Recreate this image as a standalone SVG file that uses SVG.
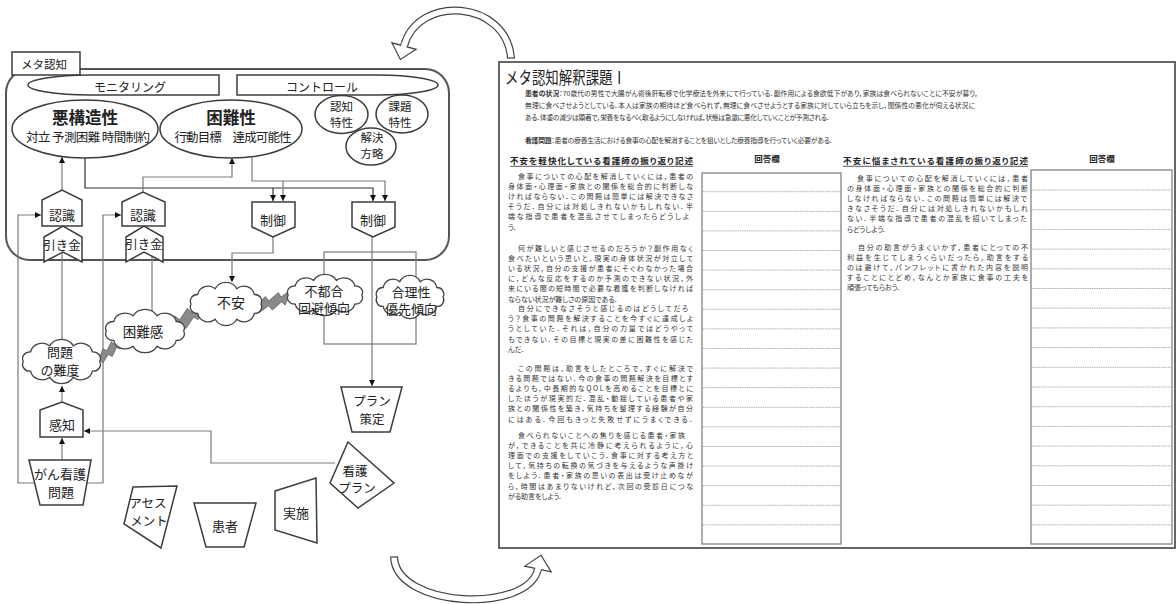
<svg xmlns="http://www.w3.org/2000/svg" width="1176" height="604" viewBox="0 0 1176 604">
<style>
text{font-family:"Noto Sans CJK JP","Noto Sans CJK SC",sans-serif;fill:#222}
.m{text-anchor:middle}
.l13{font-size:13px}
.l125{font-size:12.5px}
.shape{fill:#fff;stroke:#3c3c3c;stroke-width:1.5}
.conn{fill:none;stroke:#7a7a7a;stroke-width:1.2}
.connd{fill:none;stroke:#333;stroke-width:1.2}
.cloud{fill:#fff;stroke:#444;stroke-width:1.3;vector-effect:non-scaling-stroke}
.bolt{fill:#8a8a8a;stroke:#555;stroke-width:0.7;vector-effect:non-scaling-stroke}
.hd{font-size:6.8px;font-feature-settings:"palt";fill:#333}
.b{font-size:7px;font-feature-settings:"palt";fill:#333}
.ch{font-size:8.5px;font-weight:bold;font-feature-settings:"palt";fill:#222}
.dash{stroke:#9a9a9a;stroke-width:0.8;stroke-dasharray:1.5 0.8}
.box{fill:#fff;stroke:#777;stroke-width:1.2}
.band{fill:none;stroke:#444;stroke-width:8}
.bandw{fill:none;stroke:#fff;stroke-width:5.6}
</style>
<defs>
<marker id="ah" viewBox="0 0 6 6" refX="6" refY="3" markerWidth="6" markerHeight="6" markerUnits="userSpaceOnUse" orient="auto"><path d="M0,0L6,3L0,6z" fill="#111"/></marker>
</defs>
<rect width="1176" height="604" fill="#fff"/>

<!-- curved cycle arrows -->
<g id="cycle-arrow-top">
<path class="band" d="M511,58 C506,0 418,-6 404,46"/>
<path class="bandw" d="M511,58 C506,0 418,-6 404,46"/>
<polygon points="416.1,49.3 400.4,59.5 391.9,42.8" fill="#fff" stroke="#444" stroke-width="1.2"/>
<line x1="404.8" y1="43" x2="403.4" y2="48" stroke="#fff" stroke-width="5.6"/>
<line x1="507" y1="58" x2="515" y2="58" stroke="#444" stroke-width="1.2"/>
</g>
<g id="cycle-arrow-bottom">
<path class="band" d="M394,557 C396,608 528,614 538,569"/>
<path class="bandw" d="M394,557 C396,608 528,614 538,569"/>
<polygon points="551.2,571.9 541,555.3 524.8,566.1" fill="#fff" stroke="#444" stroke-width="1.2"/>
<line x1="537.5" y1="571.5" x2="538.4" y2="567.3" stroke="#fff" stroke-width="5.6"/>
<line x1="390" y1="557" x2="398" y2="557" stroke="#444" stroke-width="1.2"/>
</g>

<!-- metacognition frame -->
<g id="metacog-frame">
<rect x="6" y="69" width="443" height="191" rx="24" fill="none" stroke="#555" stroke-width="2"/>
</g>
<g id="metacog-label">
<rect x="12" y="52" width="68" height="23" class="shape"/>
<text x="21" y="68.5" font-size="11.5">メタ認知</text>
</g>
<g id="monitoring">
<path class="shape" d="M219,75 H90 A62,10 0 0 0 90,95 H219 Z"/>
<text class="m" x="130" y="91.5" font-size="12">モニタリング</text>
</g>
<g id="control">
<path class="shape" d="M237,75 H378 A60,10 0 0 1 378,95 H237 Z"/>
<text class="m" x="322" y="91.5" font-size="12">コントロール</text>
</g>
<g id="ill-structure">
<ellipse class="shape" cx="85" cy="129" rx="73" ry="29"/>
<text class="m" x="85" y="124" font-size="16.5" font-weight="bold">悪構造性</text>
<text class="m" x="88" y="142" font-size="12.5" textLength="124">対立 予測困難 時間制約</text>
</g>
<g id="difficulty">
<ellipse class="shape" cx="231" cy="129" rx="71" ry="29"/>
<text class="m" x="231" y="124" font-size="16.5" font-weight="bold">困難性</text>
<text class="m" x="233" y="142" font-size="12.5" textLength="117">行動目標　達成可能性</text>
</g>
<g id="cognitive-trait">
<ellipse class="shape" cx="341.5" cy="114.5" rx="26.5" ry="19"/>
<text class="m" x="341.5" y="110.5" font-size="11.5">認知</text>
<text class="m" x="341.5" y="127" font-size="11.5">特性</text>
</g>
<g id="task-trait">
<ellipse class="shape" cx="402" cy="114" rx="26" ry="19"/>
<text class="m" x="400" y="110.5" font-size="11.5">課題</text>
<text class="m" x="400" y="127" font-size="11.5">特性</text>
</g>
<g id="solution-strategy">
<ellipse class="shape" cx="371" cy="146.5" rx="25" ry="18.5"/>
<text class="m" x="372" y="141.5" font-size="11.5">解決</text>
<text class="m" x="372" y="158" font-size="11.5">方略</text>
</g>

<!-- connectors -->
<g id="connectors">
<path class="connd" d="M85,158V188H373V201" marker-end="url(#ah)"/>
<path class="connd" d="M273,188V201" marker-end="url(#ah)"/>
<path class="conn" d="M252,157V181H385V201" marker-end="url(#ah)"/>
<path class="conn" d="M283,181V201" marker-end="url(#ah)"/>
<path class="conn" d="M62,190V157" marker-end="url(#ah)"/>
<path class="conn" d="M143,192V177H232V158" marker-end="url(#ah)"/>
<path class="conn" d="M35,483H18V215H41" marker-end="url(#ah)"/>
<path class="conn" d="M85,483H103V215H121" marker-end="url(#ah)"/>
<path class="conn" d="M62,252V341"/>
<path class="conn" d="M152,256V311"/>
<path class="conn" d="M273,237V253H232V282" marker-end="url(#ah)"/>
<path class="conn" d="M372,237V386" marker-end="url(#ah)"/>
<rect class="conn" x="324" y="252" width="92" height="92"/>
<path class="conn" d="M335,463H211V431H84" marker-end="url(#ah)"/>
<path class="conn" d="M62,402V386" marker-end="url(#ah)"/>
<path class="conn" d="M62,460V438" marker-end="url(#ah)"/>
</g>

<!-- process nodes -->
<g id="recognize-1">
<polygon class="shape" points="42,200 62,190 82,200 82,226 42,226"/>
<text class="m l13" x="62" y="220">認識</text>
</g>
<g id="trigger-1">
<polygon class="shape" points="44,237 63,226 82,237 82,262 63,252 44,262"/>
<text class="m" x="62" y="249.5" font-size="12.5">引き金</text>
</g>
<g id="recognize-2">
<polygon class="shape" points="122,202 143,192 165,202 165,226 122,226"/>
<text class="m l13" x="143" y="220">認識</text>
</g>
<g id="trigger-2">
<polygon class="shape" points="126,237 144,226 163,237 163,262 144,252 126,262"/>
<text class="m" x="144" y="248.5" font-size="12.5">引き金</text>
</g>
<g id="control-1">
<polygon class="shape" points="252,202 295,202 295,227 273,237 252,227"/>
<text class="m l13" x="273" y="224.5">制御</text>
</g>
<g id="control-2">
<polygon class="shape" points="352,202 395,202 395,227 373,237 352,227"/>
<text class="m l13" x="373" y="225">制御</text>
</g>

<!-- lightning bolts -->
<g id="bolts">
<path class="bolt" transform="translate(98,358) rotate(-31.6) scale(0.76)" d="M0,2 L12,-7 L15,-2 L26,-9 L28,-4 L40,-10 L31,5 L28,1 L17,8 L14,3 L2,9 Z"/>
<path class="bolt" transform="translate(166,328) rotate(-23.6) scale(1.06)" d="M0,2 L12,-7 L15,-2 L26,-9 L28,-4 L40,-10 L31,5 L28,1 L17,8 L14,3 L2,9 Z"/>
<path class="bolt" transform="translate(255,305) rotate(-9) scale(0.96)" d="M0,2 L12,-7 L15,-2 L26,-9 L28,-4 L40,-10 L31,5 L28,1 L17,8 L14,3 L2,9 Z"/>
</g>

<!-- clouds -->
<g id="anxiety">
<path class="cloud" transform="translate(188,282) scale(0.76,0.733)" d="M96,30 A9,9 0 0 1 87.2,42.9 A14,14 0 0 1 64.2,50.9 A16,16 0 0 1 35.8,50.9 A14,14 0 0 1 12.8,42.9 A9,9 0 0 1 4,30 A9,9 0 0 1 12.8,17.1 A14,14 0 0 1 35.8,9.1 A16,16 0 0 1 64.2,9.1 A14,14 0 0 1 87.2,17.1 A9,9 0 0 1 96,30 Z"/>
<text class="m" x="231" y="308" font-size="14">不安</text>
</g>
<g id="avoidance">
<path class="cloud" transform="translate(285,274) scale(0.8,0.7)" d="M96,30 A9,9 0 0 1 87.2,42.9 A14,14 0 0 1 64.2,50.9 A16,16 0 0 1 35.8,50.9 A14,14 0 0 1 12.8,42.9 A9,9 0 0 1 4,30 A9,9 0 0 1 12.8,17.1 A14,14 0 0 1 35.8,9.1 A16,16 0 0 1 64.2,9.1 A14,14 0 0 1 87.2,17.1 A9,9 0 0 1 96,30 Z"/>
<text class="m" x="324" y="295.5" font-size="13">不都合</text>
<text class="m" x="324" y="312.5" font-size="13">回避傾向</text>
</g>
<g id="rationality">
<path class="cloud" transform="translate(374,275) scale(0.72,0.733)" d="M96,30 A9,9 0 0 1 87.2,42.9 A14,14 0 0 1 64.2,50.9 A16,16 0 0 1 35.8,50.9 A14,14 0 0 1 12.8,42.9 A9,9 0 0 1 4,30 A9,9 0 0 1 12.8,17.1 A14,14 0 0 1 35.8,9.1 A16,16 0 0 1 64.2,9.1 A14,14 0 0 1 87.2,17.1 A9,9 0 0 1 96,30 Z"/>
<text class="m" x="411" y="296.5" font-size="13">合理性</text>
<text class="m" x="411" y="313.5" font-size="13">優先傾向</text>
</g>
<g id="sense-of-difficulty">
<path class="cloud" transform="translate(103,309) scale(0.84,0.733)" d="M96,30 A9,9 0 0 1 87.2,42.9 A14,14 0 0 1 64.2,50.9 A16,16 0 0 1 35.8,50.9 A14,14 0 0 1 12.8,42.9 A9,9 0 0 1 4,30 A9,9 0 0 1 12.8,17.1 A14,14 0 0 1 35.8,9.1 A16,16 0 0 1 64.2,9.1 A14,14 0 0 1 87.2,17.1 A9,9 0 0 1 96,30 Z"/>
<text class="m" x="143" y="336.5" font-size="13.5">困難感</text>
</g>
<g id="problem-difficulty">
<path class="cloud" transform="translate(20,339) scale(0.83,0.75)" d="M96,30 A9,9 0 0 1 87.2,42.9 A14,14 0 0 1 64.2,50.9 A16,16 0 0 1 35.8,50.9 A14,14 0 0 1 12.8,42.9 A9,9 0 0 1 4,30 A9,9 0 0 1 12.8,17.1 A14,14 0 0 1 35.8,9.1 A16,16 0 0 1 64.2,9.1 A14,14 0 0 1 87.2,17.1 A9,9 0 0 1 96,30 Z"/>
<text class="m" x="60" y="357" font-size="13">問題</text>
<text class="m" x="60" y="375" font-size="13">の難度</text>
</g>

<!-- lower nodes -->
<g id="perception">
<polygon class="shape" points="40,410 62,402 83,410 83,437 40,437"/>
<text class="m l13" x="62" y="430">感知</text>
</g>
<g id="cancer-nursing-problem">
<polygon class="shape" points="29,460 91,460 83,505 40,505"/>
<text class="m" x="60" y="479" font-size="13">がん看護</text>
<text class="m" x="61" y="497" font-size="13">問題</text>
</g>
<g id="plan-making">
<polygon class="shape" points="341,387 402,387 390,432 352,432"/>
<text class="m l125" x="372" y="406">プラン</text>
<text class="m l125" x="372" y="424">策定</text>
</g>
<g id="nursing-plan">
<polygon class="shape" points="348,442 394,483 358,508 330,483"/>
<text class="m l125" x="355" y="475.5">看護</text>
<text class="m l125" x="357" y="493">プラン</text>
</g>
<g id="assessment">
<polygon class="shape" points="133,487 177,486 161,548 124,524"/>
<text class="m l125" x="148" y="508">アセス</text>
<text class="m l125" x="149" y="526">メント</text>
</g>
<g id="patient">
<polygon class="shape" points="194,503 256,503 244,547 206,547"/>
<text class="m l13" x="225" y="531">患者</text>
</g>
<g id="implementation">
<polygon class="shape" points="275,491 316,478 317,543 275,530"/>
<text class="m l13" x="296" y="518">実施</text>
</g>

<!-- worksheet -->
<g id="worksheet">
<rect x="499" y="62" width="676" height="486" fill="#fff" stroke="#666" stroke-width="2"/>
<text x="505" y="83.5" font-size="17" textLength="121" lengthAdjust="spacingAndGlyphs">メタ認知解釈課題Ⅰ</text>
<text class="hd" x="525" y="96" textLength="453"><tspan font-weight="bold">患者の状況</tspan>：70歳代の男性で大腸がん術後肝転移で化学療法を外来にて行っている．副作用による食欲低下があり，家族は食べられないことに不安が募り，</text>
<text class="hd" x="525" y="107.5" textLength="450">無理に食べさせようとしている．本人は家族の期待ほど食べられず，無理に食べさせようとする家族に対していら立ちを示し，関係性の悪化が伺える状況に</text>
<text class="hd" x="525" y="119.5" textLength="305">ある．体重の減少は顕著で，栄養をなるべく取るようにしなければ，状態は急激に悪化していくことが予測される．</text>
<text class="hd" x="525" y="142.5" textLength="308"><tspan font-weight="bold">看護問題</tspan>：患者の療養生活における食事の心配を解消することを狙いとした療養指導を行っていく必要がある．</text>

<text class="ch" x="510" y="163.5" textLength="183">不安を軽快化している看護師の振り返り記述</text>
<line x1="510" y1="166.3" x2="693" y2="166.3" stroke="#333" stroke-width="0.8"/>
<text class="ch m" x="767" y="162">回答欄</text>
<text class="ch" x="843" y="163.5" textLength="185">不安に悩まされている看護師の振り返り記述</text>
<line x1="843" y1="166.3" x2="1028" y2="166.3" stroke="#333" stroke-width="0.8"/>
<text class="ch m" x="1102" y="162">回答欄</text>

<text class="b" x="518" y="178.5" textLength="175">食事についての心配を解消していくには，患者の</text>
<text class="b" x="508" y="188.7" textLength="185">身体面・心理面・家族との関係を総合的に判断しな</text>
<text class="b" x="508" y="198.9" textLength="185">ければならない．この問題は簡単には解決できなさ</text>
<text class="b" x="508" y="209.1" textLength="185">そうだ．自分には対処しきれないかもしれない．半</text>
<text class="b" x="508" y="219.3" textLength="181">端な指導で患者を混乱させてしまったらどうしよ</text>
<text class="b" x="508" y="229.5">う．</text>

<text class="b" x="518" y="250.5" textLength="175">何が難しいと感じさせるのだろうか？副作用なく</text>
<text class="b" x="508" y="260.7" textLength="185">食べたいという思いと，現実の身体状況が対立して</text>
<text class="b" x="508" y="270.9" textLength="185">いる状況，自分の支援が患者にそぐわなかった場合</text>
<text class="b" x="508" y="281.1" textLength="185">に，どんな反応をするのか予測のできない状況，外</text>
<text class="b" x="508" y="291.3" textLength="185">来にいる間の短時間で必要な看護を判断しなければ</text>
<text class="b" x="508" y="301.5">ならない状況が難しさの原因である．</text>

<text class="b" x="518" y="311" textLength="170">自分にできなさそうと感じるのはどうしてだろ</text>
<text class="b" x="508" y="321.2" textLength="185">う？食事の問題を解決することを今すぐに達成しよ</text>
<text class="b" x="508" y="331.4" textLength="185">うとしていた．それは，自分の力量ではどうやって</text>
<text class="b" x="508" y="341.6" textLength="185">もできない．その目標と現実の差に困難性を感じた</text>
<text class="b" x="508" y="351.8">んだ．</text>

<text class="b" x="518" y="370.5" textLength="175">この問題は，助言をしたところで，すぐに解決で</text>
<text class="b" x="508" y="380.7" textLength="185">きる問題ではない．今の食事の問題解決を目標とす</text>
<text class="b" x="508" y="390.9" textLength="185">るよりも，中長期的なQOLを高めることを目標とに</text>
<text class="b" x="508" y="401.1" textLength="185">したほうが現実的だ．混乱・動揺している患者や家</text>
<text class="b" x="508" y="411.3" textLength="185">族との関係性を築き，気持ちを整理する経験が自分</text>
<text class="b" x="508" y="421.5" textLength="185">にはある．今回もきっと失敗せずにうまくできる．</text>

<text class="b" x="518" y="437.5" textLength="167">食べられないことへの焦りを感じる患者・家族</text>
<text class="b" x="508" y="447.7" textLength="185">が，できることを共に冷静に考えられるように，心</text>
<text class="b" x="508" y="457.9" textLength="185">理面での支援をしていこう．食事に対する考え方と</text>
<text class="b" x="508" y="468.1" textLength="185">して，気持ちの転換の気づきを与えるような声掛け</text>
<text class="b" x="508" y="478.3" textLength="185">をしよう．患者・家族の思いの表出は受け止めなが</text>
<text class="b" x="508" y="488.5" textLength="185">ら，時間はあまりないけれど，次回の受診日につな</text>
<text class="b" x="508" y="498.7">がる助言をしよう．</text>

<text class="b" x="857" y="180.5" textLength="171">食事についての心配を解消していくには，患者</text>
<text class="b" x="847" y="190.7" textLength="181">の身体面・心理面・家族との関係を総合的に判断</text>
<text class="b" x="847" y="200.9" textLength="180">しなければならない．この問題は簡単には解決で</text>
<text class="b" x="847" y="211.1" textLength="181">きなさそうだ．自分には対処しきれないかもしれ</text>
<text class="b" x="847" y="221.3" textLength="180">ない．半端な指導で患者の混乱を招いてしまった</text>
<text class="b" x="847" y="231.5">らどうしよう．</text>

<text class="b" x="858" y="249.5" textLength="170">自分の助言がうまくいかず，患者にとっての不</text>
<text class="b" x="847" y="259.7" textLength="181">利益を生じてしまうくらいだったら，助言をする</text>
<text class="b" x="847" y="269.9" textLength="181">のは避けて，パンフレットに書かれた内容を説明</text>
<text class="b" x="847" y="280.1" textLength="181">することにとどめ，なんとか家族に食事の工夫を</text>
<text class="b" x="847" y="290.3">頑張ってもらおう．</text>
</g>

<g id="answer-box-1">
<rect class="box" x="702" y="173" width="139" height="371"/>
<g class="dash">
<line x1="703" x2="840" y1="191.7" y2="191.7"/><line x1="703" x2="840" y1="211.3" y2="211.3"/><line x1="703" x2="840" y1="230.9" y2="230.9"/><line x1="703" x2="840" y1="250.5" y2="250.5"/><line x1="703" x2="840" y1="270.1" y2="270.1"/><line x1="703" x2="840" y1="289.7" y2="289.7"/><line x1="703" x2="840" y1="309.3" y2="309.3"/><line x1="703" x2="840" y1="328.9" y2="328.9"/><line x1="703" x2="840" y1="348.5" y2="348.5"/><line x1="703" x2="840" y1="368.1" y2="368.1"/><line x1="703" x2="840" y1="387.7" y2="387.7"/><line x1="703" x2="840" y1="407.3" y2="407.3"/><line x1="703" x2="840" y1="426.9" y2="426.9"/><line x1="703" x2="840" y1="446.5" y2="446.5"/><line x1="703" x2="840" y1="466.1" y2="466.1"/><line x1="703" x2="840" y1="485.7" y2="485.7"/><line x1="703" x2="840" y1="505.3" y2="505.3"/><line x1="703" x2="840" y1="524.9" y2="524.9"/>
</g>
</g>
<g id="answer-box-2">
<rect class="box" x="1031" y="170" width="141" height="374"/>
<g class="dash">
<line x1="1032" x2="1171" y1="190" y2="190"/><line x1="1032" x2="1171" y1="209.7" y2="209.7"/><line x1="1032" x2="1171" y1="229.4" y2="229.4"/><line x1="1032" x2="1171" y1="249.1" y2="249.1"/><line x1="1032" x2="1171" y1="268.8" y2="268.8"/><line x1="1032" x2="1171" y1="288.5" y2="288.5"/><line x1="1032" x2="1171" y1="308.2" y2="308.2"/><line x1="1032" x2="1171" y1="327.9" y2="327.9"/><line x1="1032" x2="1171" y1="347.6" y2="347.6"/><line x1="1032" x2="1171" y1="367.3" y2="367.3"/><line x1="1032" x2="1171" y1="387" y2="387"/><line x1="1032" x2="1171" y1="406.7" y2="406.7"/><line x1="1032" x2="1171" y1="426.4" y2="426.4"/><line x1="1032" x2="1171" y1="446.1" y2="446.1"/><line x1="1032" x2="1171" y1="465.8" y2="465.8"/><line x1="1032" x2="1171" y1="485.5" y2="485.5"/><line x1="1032" x2="1171" y1="505.2" y2="505.2"/><line x1="1032" x2="1171" y1="524.9" y2="524.9"/>
</g>
</g>
</svg>
